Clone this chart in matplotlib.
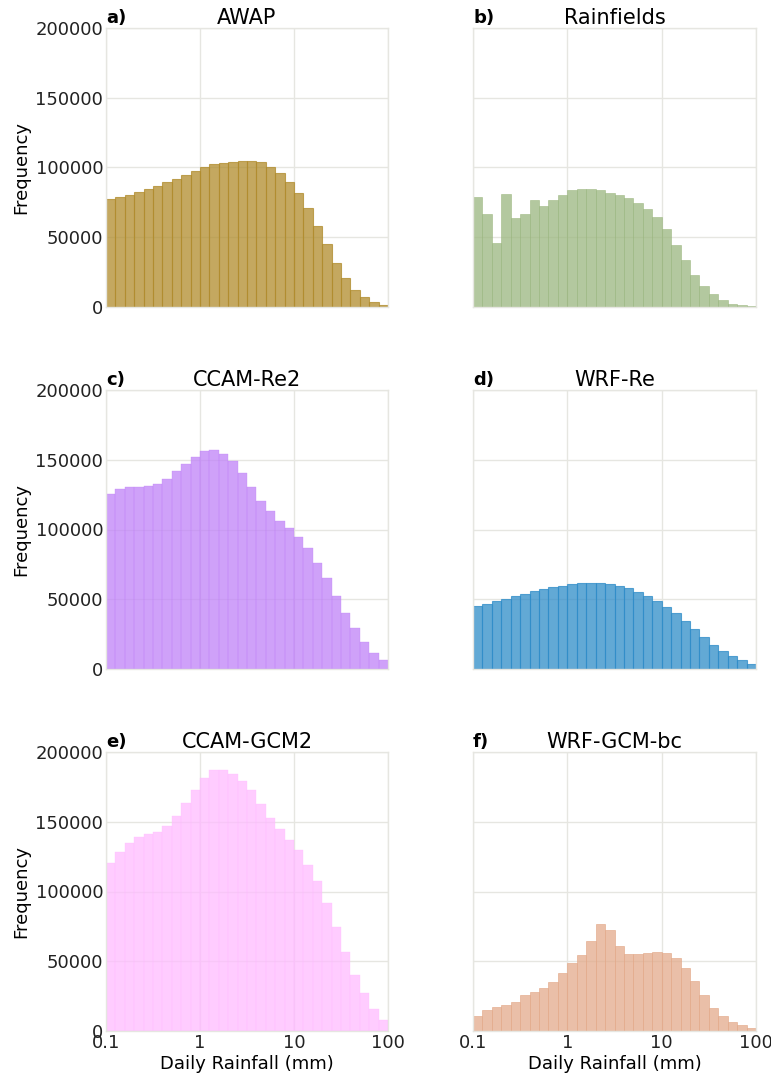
import numpy as np
import matplotlib
matplotlib.use("Agg")
import matplotlib.pyplot as plt
from matplotlib.ticker import FixedLocator, FixedFormatter

# ---- data (bar heights per log bin, 30 bins from 0.1 to 100 mm) ----
bin_edges = 10 ** np.linspace(-1, 2, 31)

awap = [77600, 78600, 80250, 82200, 84350, 87000, 89400, 92100, 94700, 97600,
        100500, 102200, 103100, 104300, 104600, 104600, 103600, 100300, 95700, 89900,
        81500, 71100, 58100, 45100, 31300, 21000, 12300, 7000, 3400, 1700]
rainfields = [78800, 66500, 46000, 81000, 63900, 67000, 76400, 72500, 76900, 80000,
              83600, 84800, 84600, 83900, 81900, 80300, 78100, 74700, 70400, 64800,
              55700, 44600, 34000, 23100, 14900, 9200, 4800, 2400, 1200, 500]
ccam_re2 = [125500, 129000, 130300, 130800, 131000, 132600, 136300, 141600, 146900, 152200,
            156200, 156700, 154200, 149200, 140600, 130300, 120700, 113100, 106300, 100800,
            94800, 86400, 76100, 65300, 52200, 40300, 29200, 19200, 11300, 6600]
wrf_re = [44900, 46800, 48700, 50400, 52100, 54000, 55700, 57100, 58600, 59800,
          60700, 61400, 61700, 61400, 61000, 59800, 57800, 55200, 52100, 48500,
          44400, 40100, 34600, 28800, 23000, 17500, 13200, 9100, 6200, 3800]
ccam_gcm2 = [120700, 128600, 134600, 139000, 141100, 143000, 146900, 154100, 163200, 172600,
             181200, 187200, 187200, 184300, 179500, 172600, 162500, 152900, 144700, 136800,
             129400, 119300, 107300, 91700, 74200, 56400, 40300, 26900, 15800, 7900]
wrf_gcm_bc = [10800, 15300, 17000, 18600, 21000, 25800, 27700, 30800, 35100, 41600,
              48500, 54300, 64800, 77000, 72400, 60700, 55400, 55000, 56200, 56900,
              56200, 52300, 44900, 35800, 25600, 16500, 10500, 6500, 4100, 2400]

titles = ["AWAP", "Rainfields", "CCAM-Re2", "WRF-Re", "CCAM-GCM2", "WRF-GCM-bc"]
letters = ["a)", "b)", "c)", "d)", "e)", "f)"]
series = [awap, rainfields, ccam_re2, wrf_re, ccam_gcm2, wrf_gcm_bc]
base_colors = ["#b08b2b", "#9ab67f", "#c082f8", "#2e8cc8", "#ffbcff", "#e3aa8b"]
edge_widths = [0.8, 0.5, 0.3, 0.8, 0.3, 0.6]

y_ticks = [0, 50000, 100000, 150000, 200000]
x_ticks = [0.1, 1, 10, 100]
x_labels = ["0.1", "1", "10", "100"]

fig = plt.figure(figsize=(7.71, 10.76), dpi=100)

lefts = [106 / 771, 473 / 771]
width_l = (388 - 106) / 771
width_r = (756 - 473) / 771
rows_top = [28, 390, 752]
h_px = 279

for i in range(6):
    r, c = divmod(i, 2)
    left = lefts[c]
    w = width_l if c == 0 else width_r
    bottom = 1 - (rows_top[r] + h_px) / 1076
    ax = fig.add_axes([left, bottom, w, h_px / 1076])
    widths = np.diff(bin_edges)
    ax.bar(bin_edges[:-1], series[i], width=widths, align="edge",
           color=base_colors[i], edgecolor=base_colors[i], alpha=0.75,
           linewidth=edge_widths[i], zorder=2)
    ax.set_xscale("log")
    ax.set_xlim(0.1, 100)
    ax.set_ylim(0, 200000)
    ax.xaxis.set_major_locator(FixedLocator(x_ticks))
    ax.xaxis.set_major_formatter(FixedFormatter(x_labels))
    ax.xaxis.set_minor_locator(FixedLocator([]))
    ax.set_yticks(y_ticks)
    ax.grid(True, color="#e6e6e1", linewidth=1.0, zorder=0)
    ax.set_axisbelow(True)
    for s in ax.spines.values():
        s.set_color("#e6e6e1")
        s.set_linewidth(1.0)
    ax.tick_params(length=0, labelsize=13, colors="#222222", pad=2)
    if c == 0:
        ax.set_ylabel("Frequency", fontsize=13, labelpad=4)
        ax.set_yticklabels([str(t) for t in y_ticks])
    else:
        ax.set_yticklabels([])
    if r == 2:
        ax.set_xlabel("Daily Rainfall (mm)", fontsize=13, labelpad=2)
    else:
        ax.set_xticklabels([])
    ax.set_title(titles[i], fontsize=15, pad=3)
    ax.text(0.0, 1.005, letters[i], transform=ax.transAxes, fontsize=13,
            fontweight="bold", ha="left", va="bottom")

fig.savefig("out.png", dpi=100)
